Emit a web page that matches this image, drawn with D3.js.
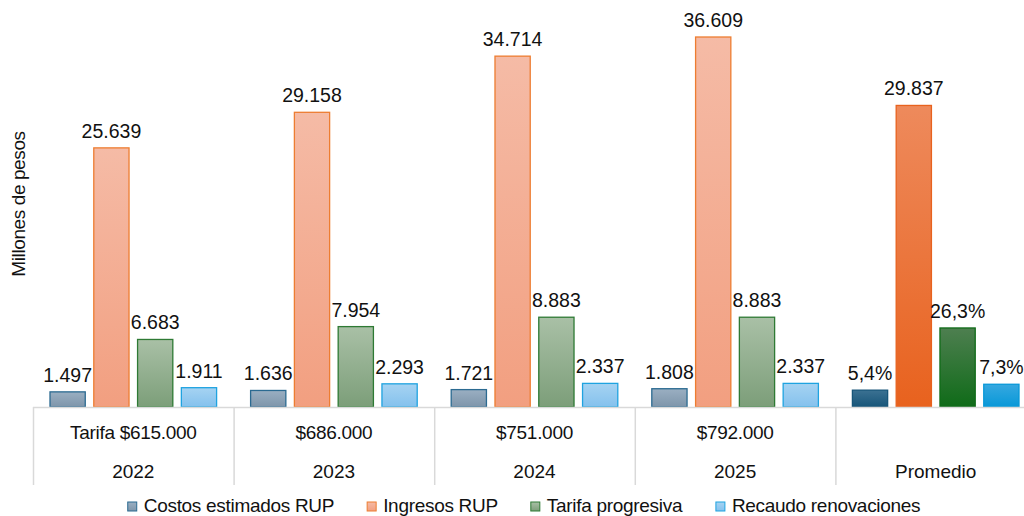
<!DOCTYPE html>
<head>
  <meta charset="utf-8">
  <script src="https://d3js.org/d3.v7.min.js"></script>
  <style>
    body { margin:0; background:#fff; }
    text { font-family: "Liberation Sans", Arial, sans-serif; fill:#111; }
  </style>
</head>
<body>
  <script>
    var width = 1024,
        height = 516;

    // data
    var years = ["2022", "2023", "2024", "2025", "Promedio"];
    var tarifas = ["Tarifa $615.000", "$686.000", "$751.000", "$792.000", ""];
    var seriesNames = ["Costos estimados RUP", "Ingresos RUP", "Tarifa progresiva", "Recaudo renovaciones"];
    var costos = [1497, 1636, 1721, 1808, 1666];
    var ingresos = [25639, 29158, 34714, 36609, 29837];
    var tarifa = [6683, 7954, 8883, 8883, 7820];
    var recaudo = [1911, 2293, 2337, 2337, 2250];
    var promedioLabels = ["5,4%", "29.837", "26,3%", "7,3%"];

    var values = [costos, ingresos, tarifa, recaudo];
    var fmt = d3.formatLocale({decimal: ",", thousands: ".", grouping: [3], currency: ["$", ""]}).format(",d");

    // light (year) and dark (promedio) fills: [top, bottom, stroke]
    var lightCols = [["#9aafc2", "#7e95aa", "#2b6a91"],
                     ["#f5bba6", "#f29f80", "#ed7d31"],
                     ["#a9c0a6", "#7c9e79", "#2e7a34"],
                     ["#a6d3f2", "#84c1ed", "#1fa3e0"]];
    var darkCols = [["#3b7192", "#175579", "#175579"],
                    ["#ee8a5c", "#e8621e", "#e8621e"],
                    ["#4e7f50", "#0f6b18", "#0f6b18"],
                    ["#36a8e0", "#0898d8", "#0898d8"]];

    var svg = d3.select("body").append("svg")
      .attr("width", width)
      .attr("height", height);

    var defs = svg.append("defs");
    function grad(id, c) {
      var g = defs.append("linearGradient").attr("id", id)
        .attr("x1", 0).attr("y1", 0).attr("x2", 0).attr("y2", 1);
      g.append("stop").attr("offset", "0%").attr("stop-color", c[0]);
      g.append("stop").attr("offset", "100%").attr("stop-color", c[1]);
    }
    lightCols.forEach(function(c, i) { grad("l" + i, c); });
    darkCols.forEach(function(c, i) { grad("d" + i, c); });

    var baseY = 407;
    var x0 = d3.scaleBand().domain(years).range([33, 1036]).paddingInner(0).paddingOuter(0);
    var x1 = d3.scaleBand().domain(d3.range(4))
      .range([17, x0.bandwidth() - 17]).paddingInner(0.195).paddingOuter(0);
    var y = d3.scaleLinear().domain([0, 40270]).range([baseY, 0]);

    var rows = [];
    years.forEach(function(yr, gi) {
      values.forEach(function(arr, si) {
        rows.push({year: yr, gi: gi, si: si, v: arr[gi],
          label: gi === 4 ? promedioLabels[si] : fmt(arr[gi])});
      });
    });

    var chart = svg.append("g");

    chart.selectAll("rect.bar")
      .data(rows)
      .enter().append("rect")
      .attr("class", "bar")
      .attr("x", function(d) { return x0(d.year) + x1(d.si); })
      .attr("width", x1.bandwidth())
      .attr("y", function(d) { return y(d.v); })
      .attr("height", function(d) { return baseY - y(d.v); })
      .attr("fill", function(d) { return d.gi === 4 ? "url(#d" + d.si + ")" : "url(#l" + d.si + ")"; })
      .attr("stroke", function(d) { return d.gi === 4 ? darkCols[d.si][2] : lightCols[d.si][2]; })
      .attr("stroke-width", 1.3);

    chart.selectAll("text.val")
      .data(rows)
      .enter().append("text")
      .attr("class", "val")
      .attr("x", function(d) { return x0(d.year) + x1(d.si) + x1.bandwidth() / 2; })
      .attr("y", function(d) { return y(d.v) - 10; })
      .attr("text-anchor", "middle")
      .style("font-size", "19.5px")
      .text(function(d) { return d.label; });

    // table-like category axis
    var axis = svg.append("g");
    axis.append("line")
      .attr("x1", 33).attr("x2", 1036)
      .attr("y1", baseY + 0.5).attr("y2", baseY + 0.5)
      .attr("stroke", "#d9d9d9").attr("stroke-width", 1.5);
    axis.selectAll("line.div")
      .data(years)
      .enter().append("line")
      .attr("class", "div")
      .attr("x1", function(d) { return x0(d) + 0.5; })
      .attr("x2", function(d) { return x0(d) + 0.5; })
      .attr("y1", baseY).attr("y2", 485)
      .attr("stroke", "#d9d9d9").attr("stroke-width", 1.5);
    axis.selectAll("text.tarifa")
      .data(years)
      .enter().append("text")
      .attr("class", "tarifa")
      .attr("x", function(d) { return x0(d) + x0.bandwidth() / 2; })
      .attr("y", 439)
      .attr("text-anchor", "middle")
      .style("font-size", "19px")
      .style("letter-spacing", "-0.3px")
      .text(function(d, i) { return tarifas[i]; });
    axis.selectAll("text.year")
      .data(years)
      .enter().append("text")
      .attr("class", "year")
      .attr("x", function(d) { return x0(d) + x0.bandwidth() / 2; })
      .attr("y", 478)
      .attr("text-anchor", "middle")
      .style("font-size", "19px")
      .text(function(d) { return d; });

    // y axis title
    svg.append("text")
      .attr("transform", "translate(25,204) rotate(-90)")
      .attr("text-anchor", "middle")
      .style("font-size", "19px")
      .style("letter-spacing", "-0.4px")
      .text("Millones de pesos");

    // legend
    var legend = svg.append("g");
    var items = legend.selectAll("g")
      .data(seriesNames)
      .enter().append("g");
    items.append("rect")
      .attr("width", 9).attr("height", 9)
      .attr("y", -10)
      .attr("fill", function(d, i) { return "url(#l" + i + ")"; })
      .attr("stroke", function(d, i) { return lightCols[i][2]; })
      .attr("stroke-width", 1);
    items.append("text")
      .attr("x", 16)
      .style("font-size", "19px")
      .style("letter-spacing", "-0.3px")
      .text(function(d) { return d; });
    var xpos = 0;
    var offs = [];
    items.each(function() {
      offs.push(xpos);
      xpos += this.getBBox().width + 33;
    });
    var total = xpos - 33;
    var start = 524 - total / 2;
    items.attr("transform", function(d, i) { return "translate(" + (start + offs[i]) + ",512)"; });
  </script>
</body>
